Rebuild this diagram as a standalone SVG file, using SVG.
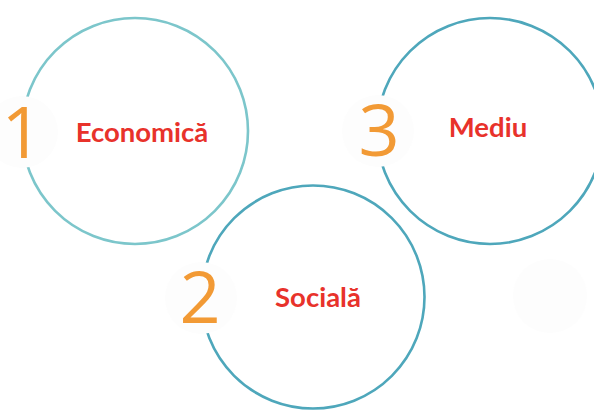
<svg xmlns="http://www.w3.org/2000/svg" width="594" height="410" viewBox="0 0 594 410">
<style>
.ring{fill:none;stroke-width:2.6}
.badge{fill:#fdfdfd}
.num{font-family:"Open Sans",Lato,sans-serif;font-size:72px;font-weight:500;fill:#f29a35;text-anchor:middle}
.lbl{font-family:Lato,"Open Sans",sans-serif;font-weight:bold;font-size:27.5px;fill:#e8322b;text-anchor:middle}
</style>
<rect width="594" height="410" fill="#ffffff"/>
<g id="extra"><circle class="badge" cx="550" cy="296" r="37"/></g>
<g id="node1">
<circle class="ring" cx="135" cy="131" r="113" stroke="#7cc6cb"/>
<circle class="badge" cx="22" cy="132" r="36"/>
<text class="num" x="22" y="158">1</text>
<text class="lbl" x="142" y="142">Economică</text>
</g>
<g id="node3">
<circle class="ring" cx="490" cy="131" r="113" stroke="#4ea7bb"/>
<circle class="badge" cx="378" cy="131" r="36"/>
<text class="num" x="379" y="156">3</text>
<text class="lbl" x="488" y="137">Mediu</text>
</g>
<g id="node2">
<circle class="ring" cx="313" cy="297" r="111.5" stroke="#4ea7bb"/>
<circle class="badge" cx="201" cy="298" r="36"/>
<text class="num" x="200" y="323">2</text>
<text class="lbl" x="318" y="307">Socială</text>
</g>
<g id="connectors"></g>
</svg>
